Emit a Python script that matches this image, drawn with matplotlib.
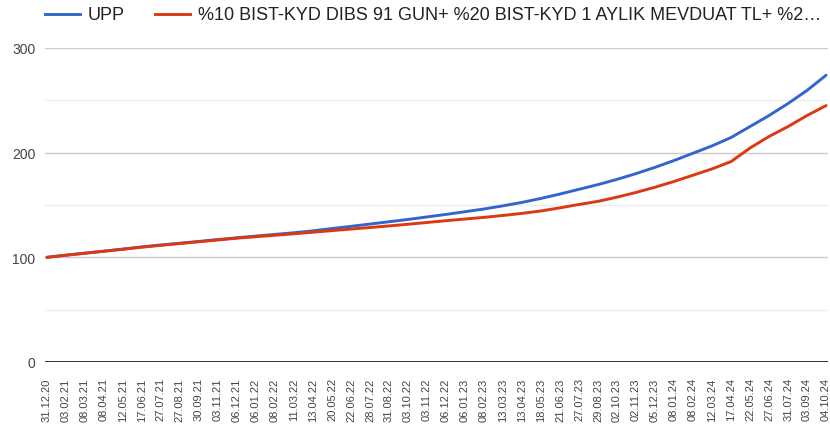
import matplotlib.pyplot as plt
from matplotlib.lines import Line2D
import numpy as np

plt.rcParams['font.family'] = ['Liberation Sans', 'DejaVu Sans']

dates = ["31.12.20", "03.02.21", "08.03.21", "08.04.21", "12.05.21", "17.06.21",
         "27.07.21", "27.08.21", "30.09.21", "03.11.21", "06.12.21", "06.01.22",
         "08.02.22", "11.03.22", "13.04.22", "20.05.22", "22.06.22", "28.07.22",
         "31.08.22", "03.10.22", "03.11.22", "06.12.22", "06.01.23", "08.02.23",
         "13.03.23", "13.04.23", "18.05.23", "21.06.23", "27.07.23", "29.08.23",
         "02.10.23", "02.11.23", "05.12.23", "08.01.24", "08.02.24", "12.03.24",
         "17.04.24", "22.05.24", "27.06.24", "31.07.24", "03.09.24", "04.10.24"]

upp = [100, 102.1, 104.0, 105.9, 107.9, 110.0, 111.8, 113.5, 115.2, 117.0, 118.7,
       120.3, 121.9, 123.5, 125.3, 127.5, 129.6, 131.8, 134.0, 136.2, 138.6,
       141.0, 143.6, 146.2, 149.2, 152.5, 156.3, 160.5, 165.0, 169.5, 174.5,
       180.0, 186.0, 192.5, 199.5, 206.5, 214.5, 225.0, 235.5, 247.0, 259.5, 274.0]

benchmark = [100, 102.0, 103.9, 105.8, 107.7, 109.7, 111.5, 113.2, 114.9, 116.6, 118.3,
             119.7, 121.1, 122.5, 124.0, 125.5, 127.0, 128.5, 130.0, 131.6, 133.3,
             135.0, 136.6, 138.2, 140.0, 142.0, 144.3, 147.3, 150.5, 153.5, 157.5,
             162.0, 167.0, 172.5, 178.5, 184.5, 191.5, 204.5, 215.5, 225.0, 235.5, 245.0]

names = ["UPP", "%10 BIST-KYD DIBS 91 GUN+ %20 BIST-KYD 1 AYLIK MEVDUAT TL+ %2…"]
colors = ["#3366cc", "#dc3912"]

W, H = 830, 427
fig = plt.figure(figsize=(W / 100, H / 100), dpi=100)
ax = fig.add_axes([45 / W, 1 - 363 / H, (828 - 45) / W, (363 - 49) / H])

x = np.arange(len(dates))
for vals, c in zip([upp, benchmark], colors):
    ax.plot(x, vals, color=c, lw=2.1, solid_capstyle='round', zorder=3)

ax.set_xlim(-0.1, len(dates) - 0.9)
ax.set_ylim(0, 300)

# gridlines: major every 100, minor every 50
for v in [50, 150, 250]:
    ax.axhline(v, color="#ebebeb", lw=1, zorder=1)
for v in [100, 200, 300]:
    ax.axhline(v, color="#cccccc", lw=1, zorder=1)
ax.axhline(0, color="#333333", lw=1.4, zorder=2)

ax.set_yticks([0, 100, 200, 300])
ax.set_yticklabels(["0", "100", "200", "300"], fontsize=10, color="#444444")
ax.set_xticks(x)
ax.set_xticklabels(dates, rotation=90, fontsize=8, color="#444444")
ax.tick_params(length=0)
ax.tick_params(axis='y', pad=7)
ax.tick_params(axis='x', pad=11)
for s in ax.spines.values():
    s.set_visible(False)

# legend
leg_y = 1 - 15 / H
starts = [45, 155]
for name, c, x0 in zip(names, colors, starts):
    fig.add_artist(Line2D([x0 / W, (x0 + 35) / W], [leg_y, leg_y], color=c, lw=2.1,
                          transform=fig.transFigure))
    fig.text((x0 + 43) / W, leg_y, name, fontsize=13, color="#222222",
             va='center', ha='left')

plt.savefig("out.png", dpi=100)
